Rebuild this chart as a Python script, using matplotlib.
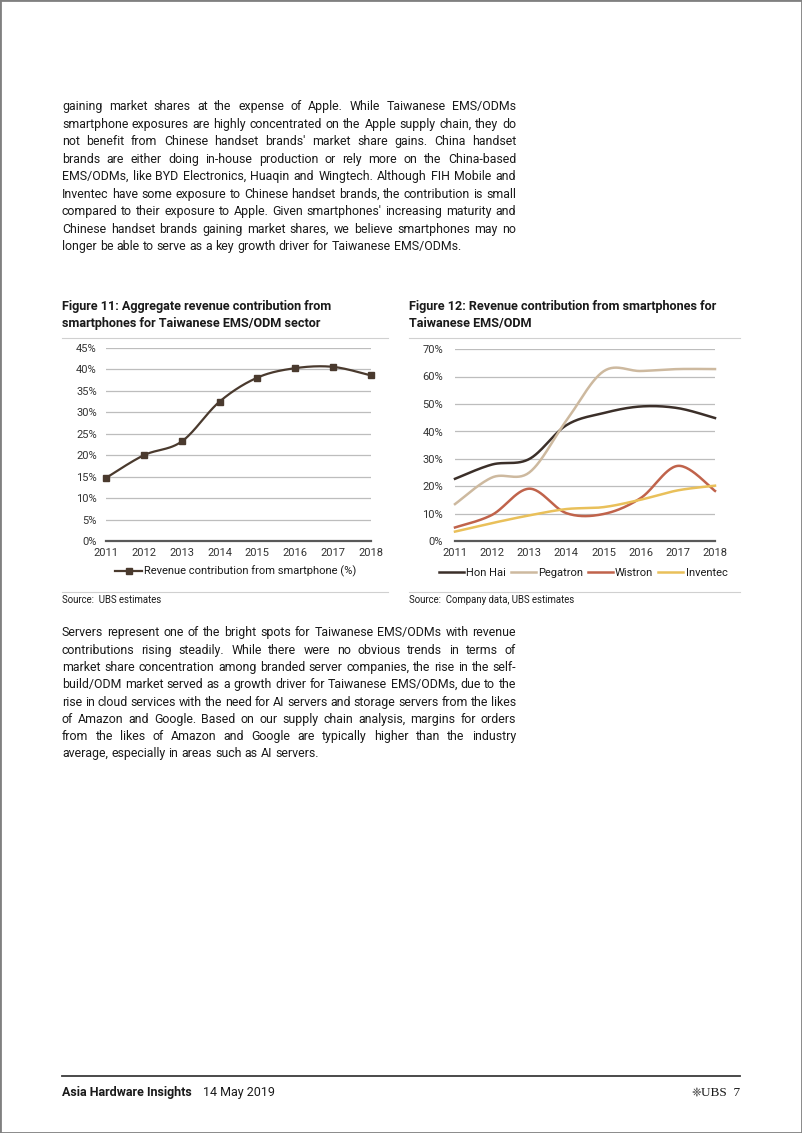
import numpy as np
import matplotlib
matplotlib.use('Agg')
import matplotlib.pyplot as plt
from matplotlib.font_manager import FontProperties
from matplotlib.lines import Line2D
from matplotlib.patches import Rectangle

# ---------------- data ----------------
years = ['2011', '2012', '2013', '2014', '2015', '2016', '2017', '2018']
total_share = [14.7, 20.0, 23.2, 32.5, 38.1, 40.3, 40.6, 38.6]
hon_hai = [22.8, 28.0, 30.0, 42.3, 46.7, 49.1, 48.5, 44.9]
pegatron = [13.6, 23.3, 25.1, 44.0, 61.9, 62.0, 62.7, 62.7]
wistron = [5.1, 9.7, 19.2, 10.3, 10.0, 15.8, 27.5, 18.4]
inventec = [3.6, 6.7, 9.5, 11.8, 12.5, 15.2, 18.6, 20.3]
fig1_ticks = [0, 5, 10, 15, 20, 25, 30, 35, 40, 45]
fig2_ticks = [0, 10, 20, 30, 40, 50, 60, 70]
series_names = ['Hon Hai', 'Pegatron', 'Wistron', 'Inventec']

para1 = [
    "gaining market shares at the expense of Apple. While Taiwanese EMS/ODMs",
    "smartphone exposures are highly concentrated on the Apple supply chain, they do",
    "not benefit from Chinese handset brands' market share gains. China handset",
    "brands are either doing in-house production or rely more on the China-based",
    "EMS/ODMs, like BYD Electronics, Huaqin and Wingtech. Although FIH Mobile and",
    "Inventec have some exposure to Chinese handset brands, the contribution is small",
    "compared to their exposure to Apple. Given smartphones' increasing maturity and",
    "Chinese handset brands gaining market shares, we believe smartphones may no",
    "longer be able to serve as a key growth driver for Taiwanese EMS/ODMs.",
]
para2 = [
    "Servers represent one of the bright spots for Taiwanese EMS/ODMs with revenue",
    "contributions rising steadily. While there were no obvious trends in terms of",
    "market share concentration among branded server companies, the rise in the self-",
    "build/ODM market served as a growth driver for Taiwanese EMS/ODMs, due to the",
    "rise in cloud services with the need for AI servers and storage servers from the likes",
    "of Amazon and Google. Based on our supply chain analysis, margins for orders",
    "from the likes of Amazon and Google are typically higher than the industry",
    "average, especially in areas such as AI servers.",
]

# ---------------- setup ----------------
W, H = 802, 1133
FAM = 'Roboto'
FAMS = [FAM, 'DejaVu Sans']
plt.rcParams['font.family'] = FAMS
fig = plt.figure(figsize=(W / 100, H / 100), dpi=100)
fig.patch.set_facecolor('white')
r = fig.canvas.get_renderer()
TXT = '#1a1a1a'


def metrics(s, fp):
    return r.get_text_width_height_descent(s, fp, ismath=False)


def tw(s, fp):
    return metrics(s, fp)[0]


def fit_size(s, target, weight='normal'):
    fp = FontProperties(family=FAMS, size=10, weight=weight)
    return 10 * target / tw(s, fp)


def fx(x):
    return x / W


def fy(y):
    return 1 - y / H


def snapped_y(word, fp, ybase):
    # keep every word of a line on exactly the same pixel baseline
    w, h, d = metrics(word, fp)
    a = h - d
    yint = int(round(ybase))
    return yint + np.floor(h + 1e-9) - np.floor(a + 1e-9) - d


def paragraph(lines, x0, x1, y0, dy, fp):
    sp = tw('a a', fp) - tw('aa', fp)
    for i, line in enumerate(lines):
        words = line.split(' ')
        ws = [tw(w, fp) for w in words]
        if i == len(lines) - 1 or len(words) == 1:
            gap = sp
        else:
            gap = (x1 - x0 - sum(ws)) / (len(words) - 1)
        x = x0
        yb = y0 + i * dy
        for w, wd in zip(words, ws):
            yy = snapped_y(w, fp, yb)
            fig.text(fx(x), fy(yy), w, fontproperties=fp, color=TXT,
                     ha='left', va='baseline')
            x += wd + gap


def smooth(xs, ys, n=30):
    xs = np.asarray(xs, float)
    ys = np.asarray(ys, float)
    P = np.column_stack([xs, ys])
    Pe = np.vstack([P[0], P, P[-1]])
    out = []
    t = np.linspace(0, 1, n)[:, None]
    for i in range(len(P) - 1):
        p0 = Pe[i + 1]
        p3 = Pe[i + 2]
        c1 = p0 + (Pe[i + 2] - Pe[i]) / 6
        c2 = p3 - (Pe[i + 3] - Pe[i + 1]) / 6
        seg = ((1 - t) ** 3) * p0 + 3 * ((1 - t) ** 2) * t * c1 + 3 * (1 - t) * t ** 2 * c2 + t ** 3 * p3
        out.append(seg if i == 0 else seg[1:])
    out = np.vstack(out)
    return out[:, 0], out[:, 1]


# ---------------- body text ----------------
body_size = fit_size(para1[1], 452)
fp_body = FontProperties(family=FAMS, size=body_size)
paragraph(para1, 62, 516, 110, 17.55, fp_body)
paragraph(para2, 62, 516, 636.5, 17.25, fp_body)

# ---------------- figure titles ----------------
title_size = fit_size("Figure 12: Revenue contribution from smartphones for", 310, 'bold')
fp_t = FontProperties(family=FAMS, size=title_size, weight='bold')
fig.text(fx(62), fy(310), "Figure 11: Aggregate revenue contribution from", fontproperties=fp_t, color=TXT, va='baseline')
fig.text(fx(62), fy(327), "smartphones for Taiwanese EMS/ODM sector", fontproperties=fp_t, color=TXT, va='baseline')
fig.text(fx(409), fy(310), "Figure 12: Revenue contribution from smartphones for", fontproperties=fp_t, color=TXT, va='baseline')
fig.text(fx(409), fy(327), "Taiwanese EMS/ODM", fontproperties=fp_t, color=TXT, va='baseline')

# separators
for (xa, xb) in [(62, 388), (409, 740)]:
    for yy in (337.5, 591.5):
        fig.add_artist(Line2D([fx(xa), fx(xb)], [fy(yy), fy(yy)], color='#d0d0d0', lw=0.8))

src_size = 6.9
fig.text(fx(62), fy(603), "Source:  UBS estimates", fontsize=src_size, color=TXT, va='baseline')
fig.text(fx(409), fy(603), "Source:  Company data, UBS estimates", fontsize=src_size, color=TXT, va='baseline')

tick_size = 8.0
tick_col = '#333333'

# ---------------- Figure 11 chart ----------------
ax1 = fig.add_axes([fx(106), fy(541), fx(371) - fx(106), fy(348) - fy(541)])
xi = np.arange(len(years))
sx, sy = smooth(xi, total_share)
c1 = '#4a3a2e'
ax1.plot(sx, sy, color=c1, lw=1.6, zorder=3, clip_on=False)
ax1.plot(xi, total_share, ls='none', marker='s', ms=5.0, color=c1, zorder=4, clip_on=False)
ax1.set_xlim(0, len(years) - 1)
ax1.set_ylim(0, 45)
ax1.set_yticks(fig1_ticks)
ax1.set_yticklabels([f"{v}%" for v in fig1_ticks])
ax1.set_xticks(xi)
ax1.set_xticklabels(years)
ax1.legend([Line2D([], [], color=c1, lw=1.6, marker='s', ms=5.0)],
           ["Revenue contribution from smartphone (%)"],
           loc='center', bbox_to_anchor=(fx(236), fy(571.5)), bbox_transform=fig.transFigure,
           frameon=False, fontsize=tick_size, handlelength=2.4, handletextpad=0.2,
           labelcolor=TXT)

# ---------------- Figure 12 chart ----------------
ax2 = fig.add_axes([fx(455), fy(541.5), fx(715) - fx(455), fy(349) - fy(541.5)])
cols = ['#3b2f29', '#cdb99f', '#c0634b', '#e9c05a']
handles = []
for vals, col, nm in zip([hon_hai, pegatron, wistron, inventec], cols, series_names):
    sx, sy = smooth(xi, vals)
    ax2.plot(sx, sy, color=col, lw=1.8, zorder=3, clip_on=False)
    handles.append(Line2D([], [], color=col, lw=1.8))
ax2.set_xlim(0, len(years) - 1)
ax2.set_ylim(0, 70)
ax2.set_yticks(fig2_ticks)
ax2.set_yticklabels([f"{v}%" for v in fig2_ticks])
ax2.set_xticks(xi)
ax2.set_xticklabels(years)
ax2.legend(handles, series_names, loc='center', ncol=4,
           bbox_to_anchor=(fx(583), fy(572.5)), bbox_transform=fig.transFigure,
           frameon=False, fontsize=tick_size, handlelength=2.25, handletextpad=0.2,
           columnspacing=0.45, labelcolor=TXT)

for ax, ypad in ((ax1, 6.5), (ax2, 8.5)):
    for s in ax.spines.values():
        s.set_visible(False)
    ax.set_facecolor('none')
    ax.yaxis.grid(True, color='#bdbdbd', lw=0.9)
    ax.set_axisbelow(True)
    ax.axhline(0, color='#595959', lw=1.6, zorder=2, clip_on=False)
    ax.tick_params(axis='both', length=0, labelsize=tick_size, labelcolor=tick_col)
    ax.tick_params(axis='y', pad=ypad)
    ax.tick_params(axis='x', pad=5)

# ---------------- footer ----------------
fig.add_artist(Line2D([fx(62), fx(740)], [fy(1076), fy(1076)], color='#3a3a3a', lw=1.3))
fp_fb = FontProperties(family=FAMS, size=9.0, weight='bold')
fig.text(fx(62), fy(1096), "Asia Hardware Insights", fontproperties=fp_fb, color=TXT, va='baseline')
fig.text(fx(203), fy(1096), "14 May 2019", fontsize=9.0, color=TXT, va='baseline')
fig.text(fx(740), fy(1096), "UBS  7", fontsize=9.5, family='Liberation Serif', color=TXT,
         ha='right', va='baseline')
fig.text(fx(701), fy(1096), "\u2748", fontsize=8.5, family='DejaVu Sans', color='#333333',
         ha='right', va='baseline')

# page border
fig.add_artist(Rectangle((0, 0), 1, 1, transform=fig.transFigure, fill=False,
                         edgecolor='#808080', lw=2.0))

fig.savefig('out.png', dpi=100, facecolor='white')
